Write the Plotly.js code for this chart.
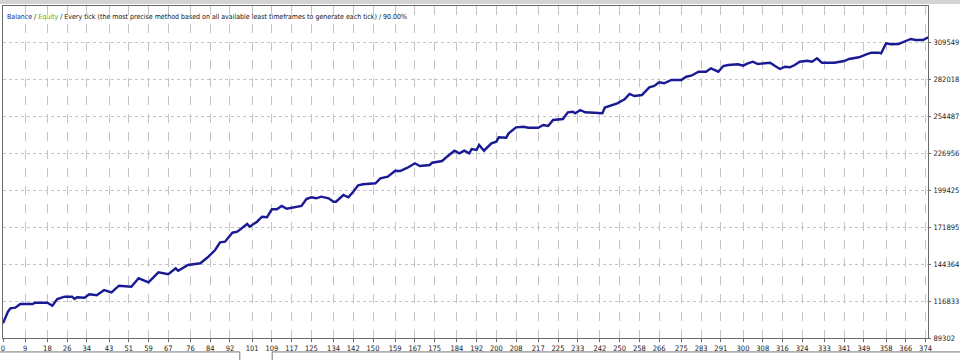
<!DOCTYPE html>
<html>
<head>
<meta charset="utf-8">
<script src="https://cdn.plot.ly/plotly-3.0.1.min.js"></script>
<style>html,body{margin:0;padding:0;background:#fff;}#chart{width:960px;height:360px;}</style>
</head>
<body>
<div id="chart"></div>
<script>
const trades = [0,2,3,5,7,12,13,18,20,22,25,28,29,30,33,35,38,41,44,47,52,55,59,63,67,70,71,75,80,83,86,88,90,93,95,99,100,103,105,107,109,111,113,115,121,123,125,127,129,132,134,135,138,140,142,144,146,151,153,156,159,161,164,167,169,173,174,178,180,183,185,187,189,190,192,193,195,198,200,201,204,205,208,211,213,217,219,221,223,227,229,231,232,234,236,243,244,246,249,252,254,256,259,262,264,266,268,271,275,277,279,282,285,287,289,290,292,294,298,300,302,304,306,308,311,313,315,317,319,321,323,326,328,330,332,337,341,343,347,350,352,355,356,358,360,363,365,367,368,370,373,375];
const balance = [100240,108872,111402,111848,114601,114601,115569,115569,113336,118322,120033,120033,118322,119587,119289,121819,121075,125019,123307,128218,127474,133725,130748,138189,136701,141166,139380,143621,144886,149351,154783,160512,160959,167656,168400,174129,172120,175841,179561,179115,185068,185068,187523,185514,187523,192732,193997,193253,194443,193253,190723,190723,195708,193997,198164,202926,203670,204414,208135,209325,213790,213567,216022,219296,217287,218031,219743,221008,224207,228672,226737,228672,226737,229937,229193,232913,228672,234178,235369,238643,238345,241619,246084,246530,245786,245786,247795,247051,251516,252260,257245,257692,256501,258957,257245,256501,260817,262305,263942,266919,270862,269374,270118,275848,276815,279568,278824,281280,281280,283735,284479,287456,287456,289986,288200,287456,291697,292441,292962,291920,293706,294897,293185,293706,294153,291697,289465,291176,290730,292441,294897,295641,294897,297427,294153,294153,295418,296906,298171,300403,301594,301594,301147,308588,307844,308067,309779,311044,311788,311044,311044,313053];
const xTickLabels = [0,9,18,26,34,43,51,59,67,76,84,92,101,109,117,125,134,142,150,159,167,175,184,192,200,208,217,225,233,242,250,258,266,275,283,291,300,308,316,324,333,341,349,358,366,374];
const yTickValues = [89302,116833,144364,171895,199425,226956,254487,282018,309549];

const narrow = '"Liberation Sans Narrow", "DejaVu Sans Condensed", "DejaVu Sans", sans-serif';
const tickFont = {family: narrow, size: 7.5, color: '#222'};

const trace = {
  x: trades, y: balance, type: 'scatter', mode: 'lines',
  line: {color: '#1a1a94', width: 2.4},
  hoverinfo: 'skip', showlegend: false
};

const layout = {
  width: 960, height: 360,
  margin: {l: 3, r: 32, t: 6, b: 22, pad: 0},
  paper_bgcolor: '#ffffff', plot_bgcolor: '#ffffff',
  xaxis: {
    range: [0, 375], tickvals: xTickLabels, ticktext: xTickLabels.map(String),
    showgrid: true, gridcolor: '#c4c4c4', griddash: 'dash', gridwidth: 1,
    showline: true, linecolor: '#6a6a6a', linewidth: 1, mirror: true,
    ticks: 'outside', ticklen: 3, tickcolor: '#6a6a6a',
    tickfont: tickFont, zeroline: false, fixedrange: true
  },
  yaxis: {
    range: [89302, 336343], side: 'right', tickvals: yTickValues, ticktext: yTickValues.map(String),
    showgrid: true, gridcolor: '#c4c4c4', griddash: 'dot', gridwidth: 1,
    showline: true, linecolor: '#6a6a6a', linewidth: 1, mirror: true,
    ticks: 'outside', ticklen: 2, tickcolor: '#6a6a6a', ticklabelstandoff: 1,
    tickfont: tickFont, zeroline: false, fixedrange: true
  },
  annotations: [{
    xref: 'paper', yref: 'paper', x: 0.002, y: 0.967, xanchor: 'left', yanchor: 'middle',
    showarrow: false, align: 'left',
    font: {family: narrow, size: 7, color: '#111'},
    text: '<span style="color:#20208c">Balance</span> / <span style="color:#3cb43c">Equity</span> / Every tick (the most precise method based on all available least timeframes to generate each tick) / 90.00%'
  }],
  shapes: [
    {type: 'rect', xref: 'paper', yref: 'paper', x0: -0.01, x1: 1.04, y0: 1.006, y1: 1.02, fillcolor: '#d4d4d4', line: {width: 0}},
    {type: 'line', xref: 'paper', yref: 'paper', x0: -0.01, x1: 0.256, y0: -0.042, y1: -0.042, line: {color: '#777', width: 1}},
    {type: 'line', xref: 'paper', yref: 'paper', x0: 0.256, x1: 0.256, y0: -0.042, y1: -0.07, line: {color: '#777', width: 1}},
    {type: 'line', xref: 'paper', yref: 'paper', x0: 0.291, x1: 1.04, y0: -0.042, y1: -0.042, line: {color: '#777', width: 1}},
    {type: 'line', xref: 'paper', yref: 'paper', x0: 0.291, x1: 0.291, y0: -0.042, y1: -0.07, line: {color: '#777', width: 1}}
  ]
};

Plotly.newPlot('chart', [trace], layout, {staticPlot: true, displayModeBar: false});
</script>
</body>
</html>
